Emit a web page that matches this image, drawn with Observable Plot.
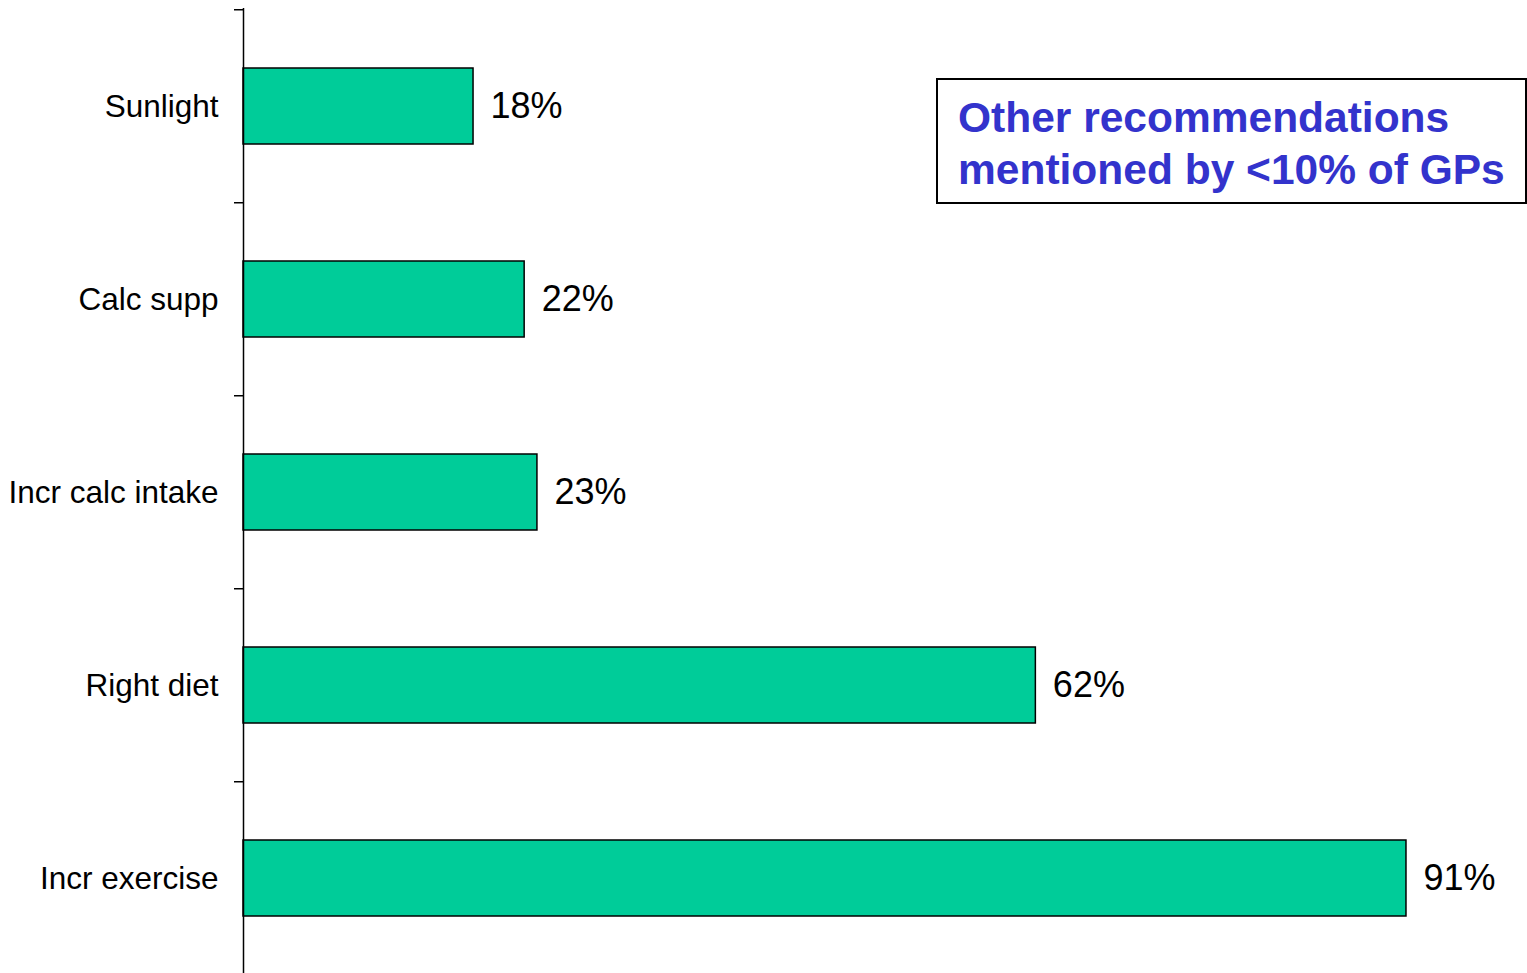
<!DOCTYPE html>
<html>
<head>
<meta charset="utf-8">
<script src="https://cdn.jsdelivr.net/npm/d3@7"></script>
<script src="https://cdn.jsdelivr.net/npm/@observablehq/plot@0.6"></script>
<style>
  html, body { margin: 0; padding: 0; background: #fff; }
  #wrap { position: relative; width: 1527px; height: 973px; overflow: hidden; font-family: "Liberation Sans", Arial, sans-serif; }
  #note {
    position: absolute; left: 936px; top: 78px;
    border: 2px solid #000; background: #fff;
    color: #3333CC; font-weight: bold; font-size: 42.5px; line-height: 52px;
    padding: 12px 0 0 20px; box-sizing: border-box; width: 591px; height: 126px;
    white-space: nowrap;
  }
</style>
</head>
<body>
<div id="wrap"></div>
<script>
const categories = ["Sunlight", "Calc supp", "Incr calc intake", "Right diet", "Incr exercise"];
const values = [18, 22, 23, 62, 91];
const noteLines = ["Other recommendations", "mentioned by <10% of GPs"];

const data = categories.map((c, i) => ({category: c, value: values[i]}));
const step = (975.5 - 8) / categories.length;

const chart = Plot.plot({
  width: 1527,
  height: 973,
  marginLeft: 243,
  marginRight: 6,
  marginTop: 8,
  marginBottom: -2.5,
  style: {fontFamily: "'Liberation Sans', Arial, sans-serif", background: "#fff", color: "#000"},
  x: {domain: [0, 100], axis: null},
  y: {domain: categories, paddingInner: 0.607, paddingOuter: 0.3035, label: null, axis: null},
  marks: [
    Plot.barX(data, {x: "value", y: "category", fill: "#00CC99", stroke: "#000", strokeWidth: 1.5}),
    Plot.text(data, {x: "value", y: "category", text: d => d.value + "%", textAnchor: "start", dx: 17, fontSize: 36, fill: "#000"}),
    Plot.axisY({tickSize: 9, tickFormat: () => "", dy: -step / 2, stroke: "#000", strokeWidth: 1.5, strokeOpacity: 1}),
    Plot.axisY({tickSize: 0, tickPadding: 25, fontSize: 31.5, fill: "#000", label: null}),
    Plot.ruleX([0], {stroke: "#000", strokeWidth: 1.5})
  ]
});

const wrap = document.getElementById("wrap");
wrap.appendChild(chart);
const note = document.createElement("div");
note.id = "note";
note.innerHTML = noteLines.map(t => t.replace(/</g, "&lt;")).join("<br>");
wrap.appendChild(note);
</script>
</body>
</html>
